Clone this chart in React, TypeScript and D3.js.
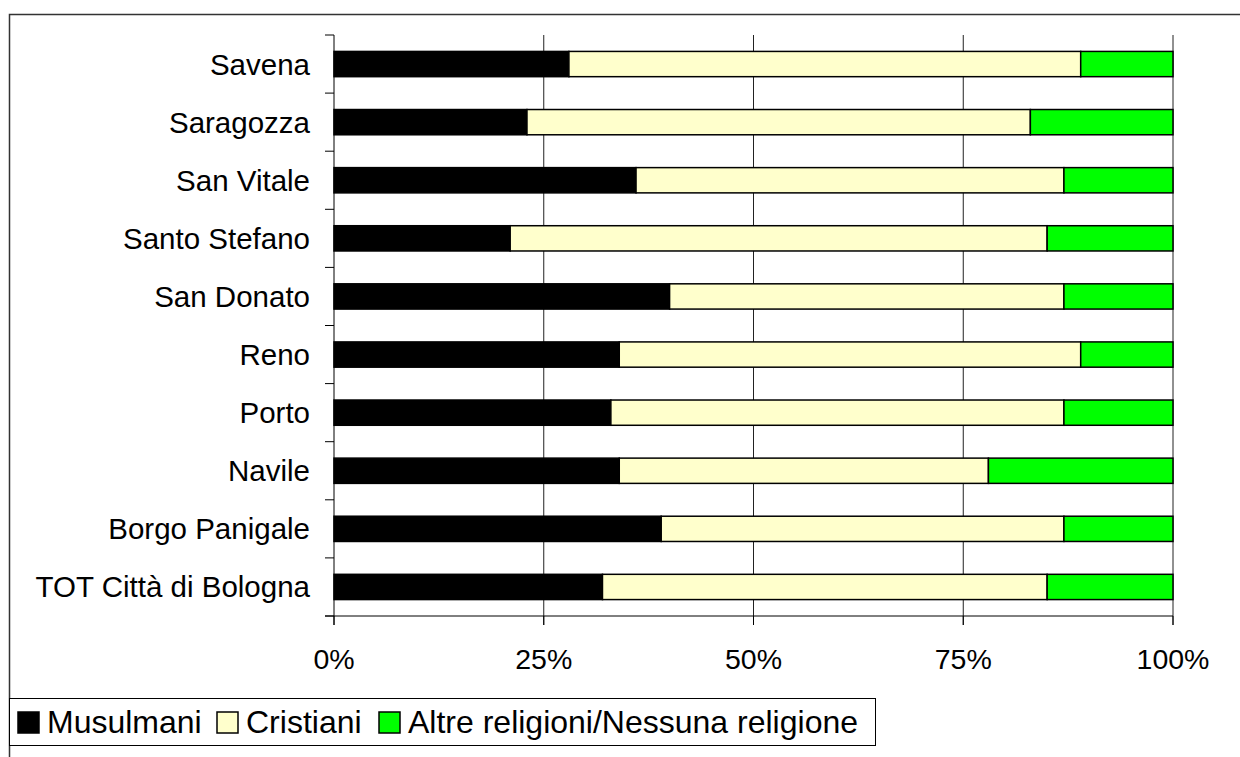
import React from "react";
import * as d3 from "d3";

const categories = [
  "Savena",
  "Saragozza",
  "San Vitale",
  "Santo Stefano",
  "San Donato",
  "Reno",
  "Porto",
  "Navile",
  "Borgo Panigale",
  "TOT Città di Bologna",
];
const musulmani = [28, 23, 36, 21, 40, 34, 33, 34, 39, 32];
const cristiani = [61, 60, 51, 64, 47, 55, 54, 44, 48, 53];
const altre = [11, 17, 13, 15, 13, 11, 13, 22, 13, 15];
const seriesNames = ["Musulmani", "Cristiani", "Altre religioni/Nessuna religione"];
const seriesColors = ["#000000", "#FFFFCC", "#00FF00"];
const xTicks = [0, 0.25, 0.5, 0.75, 1];

const W = 1240;
const H = 757;
const FONT = "Arial, 'Liberation Sans', sans-serif";

export default function App() {
  const left = 334;
  const right = 1173;
  const top = 35;
  const bottom = 616;

  const x = d3.scaleLinear().domain([0, 1]).range([left, right]);
  const y = d3
    .scaleBand<string>()
    .domain(categories)
    .range([top, bottom])
    .paddingInner(1.3 / 2.3)
    .paddingOuter(0.65 / 2.3);

  const rows = categories.map((c, i) => {
    const vals = [musulmani[i], cristiani[i], altre[i]];
    const tot = d3.sum(vals);
    let acc = 0;
    const segs = vals.map((v, k) => {
      const s = acc / tot;
      acc += v;
      return { k, x0: s, x1: acc / tot };
    });
    return { c, segs };
  });

  const step = y.step();
  const boundaries = d3.range(categories.length + 1).map((i) => top + i * step);
  const fmt = d3.format(".0%");

  const legendX = [18, 217, 379];

  return (
    <svg
      width={W}
      height={H}
      style={{ position: "absolute", left: 0, top: 0, background: "#fff" }}
      fontFamily={FONT}
    >
      <rect x={9.5} y={14.5} width={1300} height={800} fill="#fff" stroke="#333" strokeWidth={1.5} />

      {/* gridlines */}
      {xTicks.slice(1).map((t) => (
        <line key={"g" + t} x1={x(t)} x2={x(t)} y1={top} y2={bottom + 9} stroke="#222" strokeWidth={1} />
      ))}

      {/* bars */}
      {rows.map((r) =>
        r.segs.map((s) => (
          <rect
            key={r.c + s.k}
            x={x(s.x0)}
            y={y(r.c)!}
            width={x(s.x1) - x(s.x0)}
            height={y.bandwidth()}
            fill={seriesColors[s.k]}
            stroke="#000"
            strokeWidth={1.5}
          />
        ))
      )}

      {/* category axis */}
      <line x1={left} x2={left} y1={top} y2={bottom + 9} stroke="#000" strokeWidth={1} />
      {boundaries.map((b, i) => (
        <line key={"ct" + i} x1={left - 9} x2={left} y1={b} y2={b} stroke="#000" strokeWidth={1} />
      ))}
      {categories.map((c) => (
        <text
          key={"cl" + c}
          x={310}
          y={y(c)! + y.bandwidth() / 2}
          textAnchor="end"
          dominantBaseline="central"
          fontSize={29.5}
          fill="#000"
        >
          {c}
        </text>
      ))}

      {/* value axis */}
      <line x1={left - 9} x2={right} y1={bottom} y2={bottom} stroke="#000" strokeWidth={1} />
      {xTicks.map((t) => (
        <g key={"xt" + t}>
          <line x1={x(t)} x2={x(t)} y1={bottom} y2={bottom + 9} stroke="#000" strokeWidth={1} />
          <text x={x(t)} y={669} textAnchor="middle" fontSize={28.5} fill="#000">
            {fmt(t)}
          </text>
        </g>
      ))}

      {/* legend */}
      <rect x={9.5} y={698.5} width={866} height={47} fill="#fff" stroke="#000" strokeWidth={1} />
      {seriesNames.map((n, i) => (
        <g key={"lg" + n}>
          <rect x={legendX[i]} y={712} width={21} height={21} fill={seriesColors[i]} stroke="#000" strokeWidth={1.5} />
          <text x={legendX[i] + 29} y={733} fontSize={32} fill="#000">
            {n}
          </text>
        </g>
      ))}
    </svg>
  );
}
